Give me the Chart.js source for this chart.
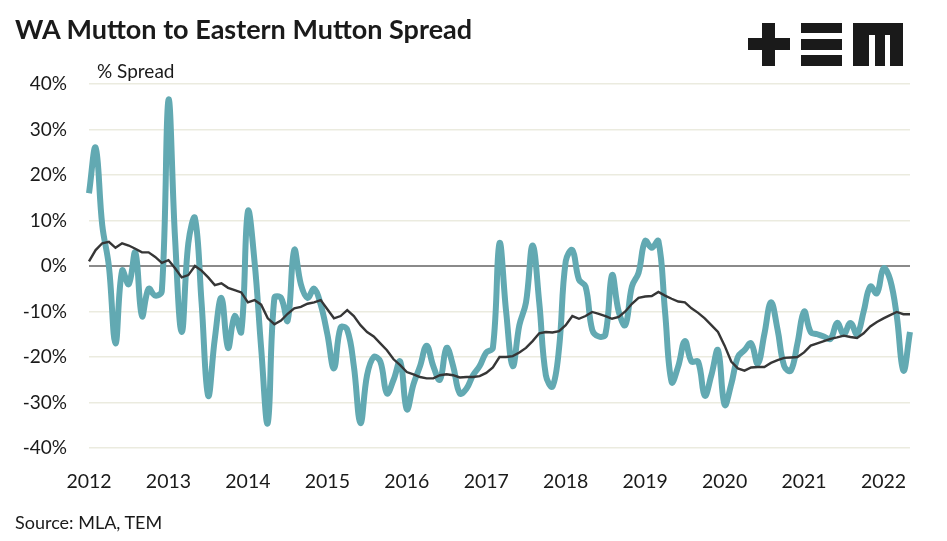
<!DOCTYPE html>
<html>
<head>
<meta charset="utf-8">
<script src="https://cdn.jsdelivr.net/npm/chart.js@4.4.1/dist/chart.umd.min.js"></script>
<style>
  html, body { margin: 0; padding: 0; background: #fff; }
  #wrap { position: relative; width: 947px; height: 541px; font-family: Lato, "Open Sans", sans-serif; color: #1a1a1a; }
  #chart { position: absolute; left: 0; top: 0; }
  .title { position: absolute; left: 15px; top: 12px; font-size: 27px; font-weight: 700; letter-spacing: 0; }
  .unit { position: absolute; left: 97px; top: 59px; font-size: 19px; }
  .source { position: absolute; left: 15px; top: 511px; font-size: 18px; }
  #logo { position: absolute; left: 0; top: 0; }
</style>
</head>
<body>
<div id="wrap">
  <canvas id="chart" width="947" height="541"></canvas>
  <div class="title">WA Mutton to Eastern Mutton Spread</div>
  <div class="unit">% Spread</div>
  <div class="source">Source: MLA, TEM</div>
  <svg id="logo" width="947" height="80">
    <g fill="#1a1a1a">
      <rect x="762" y="23" width="13" height="43"/>
      <rect x="748" y="38" width="42" height="12"/>
      <rect x="801" y="23" width="41" height="10"/>
      <rect x="801" y="39" width="41" height="11"/>
      <rect x="801" y="55" width="41" height="11"/>
      <path d="M853 23 H903 V66 H890 V35 H885 V66 H875 V35 H869 V66 H853 Z"/>
    </g>
  </svg>
</div>
<script>
const years = ['2012', '2013', '2014', '2015', '2016', '2017', '2018', '2019', '2020', '2021', '2022'];
const monthCount = 125; // Jan 2012 - May 2022

// monthly spread, %
const spread = [
  16, 26, 9, 0, -17, -1, -4, 3, -11, -5, -6.5, -5.5,
  36.5, 6, -14.5, 5, 10.5, -8, -28.5, -16, -7, -18, -11, -14.5,
  12, 1, -18, -34.5, -7, -7, -12, 3.5, -4, -7, -5, -8.5,
  -15, -22.5, -13.5, -14, -22, -34.5, -24, -20, -21, -28, -25, -21,
  -31.5, -26, -22, -17.5, -22, -25, -18, -22, -28, -27, -24, -22,
  -19, -18, 5, -10, -22, -13, -8, 4.5, -8, -24, -26.5, -18,
  1, 3.5, -3, -4.5, -14, -15.5, -15, -2, -10, -13, -4.5, -1.5,
  5.5, 4, 5.5, -10, -25.5, -22, -16.5, -21, -21, -28.5, -24, -18.5,
  -30.5, -26, -20, -18.5, -17, -21.5, -15, -8, -14, -22, -23, -17,
  -10, -14.5, -15, -15.5, -16, -12.5, -15, -12.5, -15, -10, -4.5, -6,
  -0.5, -3, -11, -23, -14.5
];

// 12 month average, %
const spreadAvg = [
  1, 3.5, 5, 5.3, 4, 5, 4.5, 3.8, 3, 3, 2, 0.7,
  1.3, -0.5, -2.5, -2, 0, -1, -2.5, -4.2, -3.8, -4.8, -5.3, -5.8,
  -8, -7.5, -8.5, -11.5, -12.8, -12, -10.5, -9.3, -9, -8.3, -8, -7.5,
  -9.5, -11.5, -11, -9.7, -11, -13, -14.5, -15.5, -17, -18.5, -20.5, -21.8,
  -23.3, -23.8, -24.4, -24.7, -24.7, -24, -23.8, -24, -24.5, -24.4, -24.4, -24.2,
  -23.5, -22.3, -20, -20, -19.8, -19, -18, -16.5, -14.8, -14.5, -14.6, -14.3,
  -13, -11, -11.6, -11, -10.1, -10.5, -11, -11.6, -11.2, -10, -8.3, -7,
  -6.7, -6.6, -5.7, -6.5, -7.2, -7.8, -8, -9.3, -10.3, -11.5, -13, -14.5,
  -17.5, -21, -22.5, -23, -22.3, -22.2, -22.2, -21.3, -20.7, -20.2, -20.1, -20,
  -19, -17.5, -17, -16.5, -16, -15.7, -15.3, -15.6, -15.8, -14.8, -13.3, -12.3,
  -11.5, -10.8, -10.1, -10.6, -10.6
];

const yTicks = [-40, -30, -20, -10, 0, 10, 20, 30, 40];

const labels = [];
for (let i = 0; i < monthCount; i++) {
  labels.push(years[Math.floor(i / 12)] + '-' + String(i % 12 + 1).padStart(2, '0'));
}

const ctx = document.getElementById('chart').getContext('2d');
new Chart(ctx, {
  type: 'line',
  data: {
    labels: labels,
    datasets: [{
      label: 'Average',
      data: spreadAvg,
      borderColor: '#363636',
      borderWidth: 2.4,
      pointRadius: 0,
      tension: 0,
      order: 0
    }, {
      label: 'Spread',
      data: spread,
      borderColor: '#62a9b2',
      borderWidth: 6,
      pointRadius: 0,
      tension: 0.4,
      order: 1
    }]
  },
  options: {
    responsive: false,
    animation: false,
    layout: { padding: { left: 0, right: 37, top: 84, bottom: 33 } },
    plugins: { legend: { display: false }, tooltip: { enabled: false } },
    scales: {
      x: {
        grid: { display: false },
        border: { display: false },
        afterFit: (s) => { s.height = 60; },
        ticks: {
          autoSkip: false,
          maxRotation: 0,
          padding: 14,
          color: '#1a1a1a',
          font: { family: 'Lato', size: 19.5 },
          callback: (v, i) => (i % 12 === 0 ? years[i / 12] : null)
        }
      },
      y: {
        min: -40,
        max: 40,
        afterFit: (s) => { s.width = 89; },
        afterBuildTicks: (s) => { s.ticks = yTicks.map(v => ({ value: v })); },
        border: { display: false },
        grid: {
          drawTicks: false,
          color: (c) => (c.tick && c.tick.value === 0 ? '#8a8a8a' : '#ebebdf'),
          lineWidth: (c) => (c.tick && c.tick.value === 0 ? 2 : 1.5)
        },
        ticks: {
          padding: 22,
          color: '#1a1a1a',
          font: { family: 'Lato', size: 19 },
          callback: (v) => v + '%'
        }
      }
    }
  }
});
</script>
</body>
</html>
